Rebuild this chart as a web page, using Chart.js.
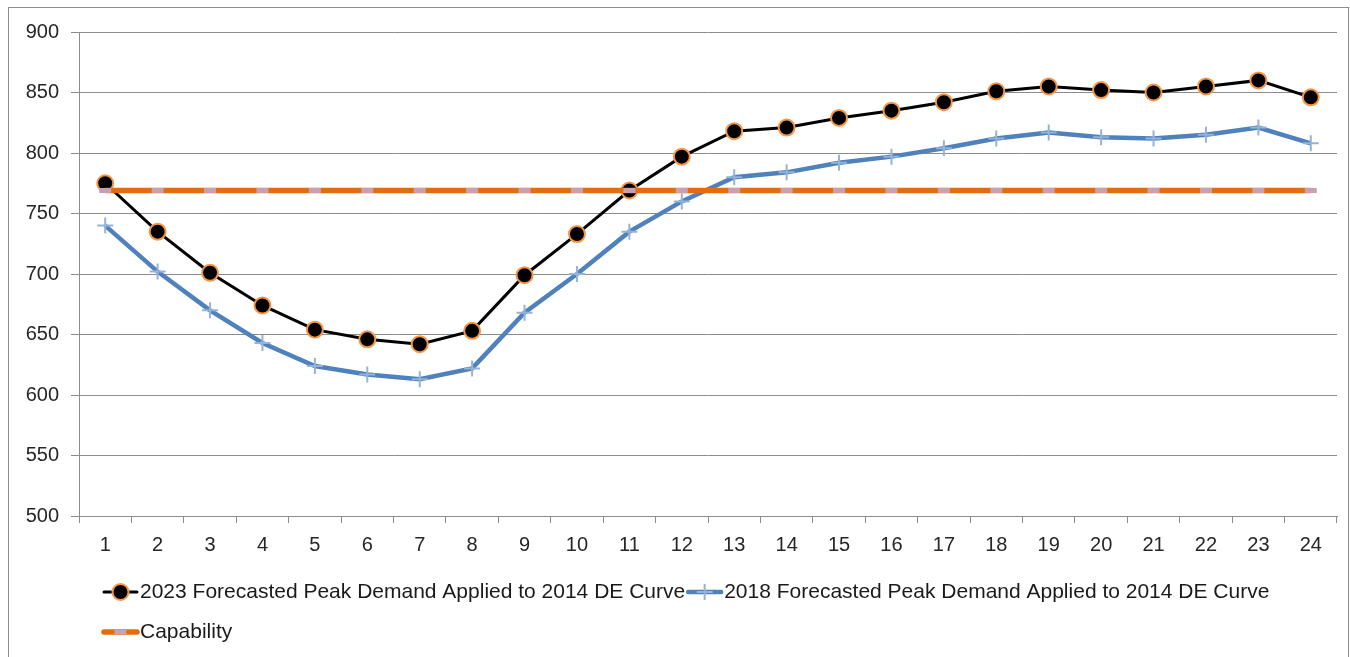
<!DOCTYPE html>
<html>
<head>
  <meta charset="UTF-8">
  <script src="https://cdn.jsdelivr.net/npm/chart.js"></script>
  <style>
    body { margin: 0; background: #fff; }
    #frame {
      position: absolute; left: 8px; top: 7px;
      width: 1341px; height: 660px;
      border: 1px solid #8c8c8c; box-sizing: border-box;
    }
  </style>
</head>
<body>
  <div id="frame">
    <canvas id="peak_chart"></canvas>
  </div>

  <script>
    // 時間帯 1〜24
    const hours = [...Array(24)].map((_, i) => String(i + 1))

    const demand2023 = [775, 735, 701, 674, 654, 646, 642, 653, 699, 733, 769, 797,
                        818, 821, 829, 835, 842, 851, 855, 852, 850, 855, 860, 846]
    const demand2018 = [740, 702, 670, 643, 624, 617, 613, 622, 668, 700, 735, 760,
                        780, 784, 792, 797, 804, 812, 817, 813, 812, 815, 821, 808]
    const capability = Array(24).fill(769)

    const seriesNames = [
      '2023 Forecasted Peak Demand Applied to 2014 DE Curve',
      '2018 Forecasted Peak Demand Applied to 2014 DE Curve',
      'Capability'
    ]
    const yTicks = [500, 550, 600, 650, 700, 750, 800, 850, 900]

    const FONT = "'Liberation Sans', Arial, sans-serif"

    // マーカー描画（凡例用）
    function drawMarker(ctx, ds, x, y){
      ctx.save()
      ctx.lineWidth = ds.pointBorderWidth
      ctx.strokeStyle = ds.pointBorderColor
      ctx.fillStyle = ds.pointBackgroundColor
      const r = ds.pointRadius
      ctx.beginPath()
      if(ds.pointStyle === 'circle'){
        ctx.arc(x, y, r, 0, Math.PI * 2)
        ctx.fill()
        ctx.stroke()
      }else if(ds.pointStyle === 'cross'){
        ctx.moveTo(x - r, y); ctx.lineTo(x + r, y)
        ctx.moveTo(x, y - r); ctx.lineTo(x, y + r)
        ctx.stroke()
      }else{
        ctx.moveTo(x - r, y); ctx.lineTo(x + r, y)
        ctx.stroke()
      }
      ctx.restore()
    }

    // Excel風の凡例（線＋マーカー）
    const lineLegend = {
      id: 'lineLegend',
      afterDraw(chart){
        const ctx = chart.ctx
        const area = chart.chartArea
        const rows = [[0, 1], [2]]
        const x0 = area.left + 25
        ctx.save()
        ctx.font = '21px ' + FONT
        ctx.textBaseline = 'middle'
        ctx.fillStyle = '#1a1a1a'
        rows.forEach((row, ri) => {
          let x = x0
          const y = area.bottom + 76 + ri * 40
          row.forEach(i => {
            const ds = chart.data.datasets[i]
            ctx.save()
            ctx.lineWidth = ds.borderWidth
            ctx.strokeStyle = ds.borderColor
            ctx.lineCap = 'round'
            ctx.beginPath()
            ctx.moveTo(x, y); ctx.lineTo(x + 33, y)
            ctx.stroke()
            ctx.restore()
            drawMarker(ctx, ds, x + 16.5, y)
            ctx.fillText(ds.label, x + 36, y)
            x += 36 + ctx.measureText(ds.label).width + 3
          })
        })
        ctx.restore()
      }
    }

    const ctxEl = document.getElementById('peak_chart')
    const peakChart = new Chart(ctxEl, {
      type: 'line',
      data: {
        labels: hours,
        datasets: [{
          label: seriesNames[0],
          data: demand2023,
          borderColor: '#000000',
          borderWidth: 3,
          pointStyle: 'circle',
          pointRadius: 8,
          pointBackgroundColor: '#000000',
          pointBorderColor: '#f79646',
          pointBorderWidth: 2,
          tension: 0,
          order: 1
        }, {
          label: seriesNames[1],
          data: demand2018,
          borderColor: '#4f81bd',
          borderWidth: 4.5,
          pointStyle: 'cross',
          pointRadius: 8,
          pointBackgroundColor: '#95b3d7',
          pointBorderColor: '#95b3d7',
          pointBorderWidth: 2,
          tension: 0,
          order: 2
        }, {
          label: seriesNames[2],
          data: capability,
          borderColor: '#e46c0a',
          borderWidth: 5.5,
          pointStyle: 'line',
          pointRadius: 6,
          pointBackgroundColor: '#c9a0b2',
          pointBorderColor: '#c9a0b2',
          pointBorderWidth: 5,
          tension: 0,
          order: 0
        }]
      },
      options: {
        animation: false,
        responsive: true,
        maintainAspectRatio: false,
        layout: { padding: { left: 0, top: 24, right: 6, bottom: 100 } },
        plugins: {
          legend: { display: false },
          tooltip: { enabled: false }
        },
        scales: {
          x: {
            offset: true,
            afterFit: (scale) => { scale.height = 50 },
            grid: {
              offset: true,
              drawOnChartArea: false,
              drawTicks: true,
              tickLength: 7,
              color: '#8c8c8c'
            },
            border: { color: '#8c8c8c', width: 1 },
            ticks: {
              color: '#262626',
              font: { family: FONT, size: 20 },
              padding: 10,
              maxRotation: 0,
              autoSkip: false
            }
          },
          y: {
            min: 500,
            max: 900,
            afterFit: (scale) => { scale.width = 70 },
            afterBuildTicks: (scale) => { scale.ticks = yTicks.map(v => ({ value: v })) },
            grid: {
              color: '#8c8c8c',
              drawTicks: true,
              tickLength: 8,
              lineWidth: 1
            },
            border: { color: '#8c8c8c', width: 1 },
            ticks: {
              color: '#262626',
              font: { family: FONT, size: 20 },
              padding: 12
            }
          }
        }
      },
      plugins: [lineLegend]
    })
  </script>
</body>
</html>
